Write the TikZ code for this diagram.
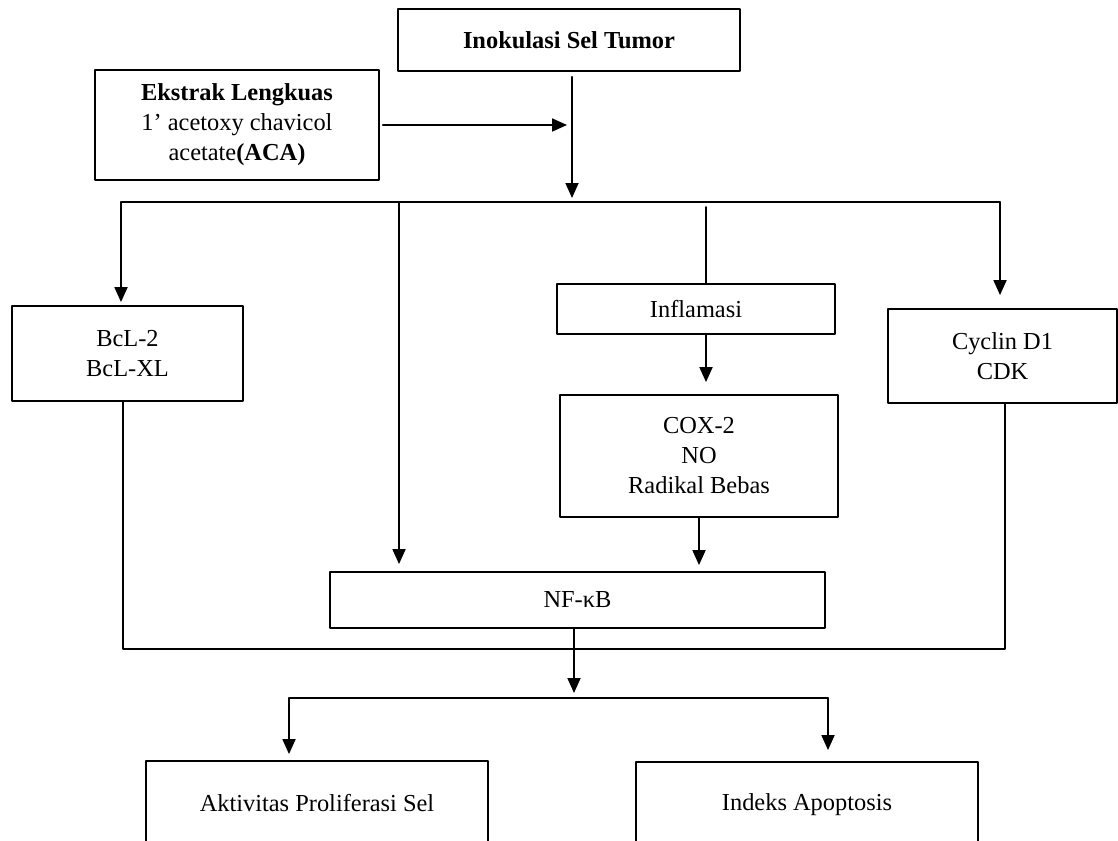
\documentclass[tikz,border=0pt]{standalone}
\usepackage{fontspec}
\setmainfont{Liberation Serif}
\usetikzlibrary{arrows.meta,positioning}

\begin{document}
\begin{tikzpicture}[x=0.5pt, y=-0.5pt, line cap=round, line join=round,
		kotak/.style={draw, line width=0.9pt, align=center, inner sep=0pt,
			font=\fontsize{12.2pt}{15pt}\selectfont},
		garis/.style={line width=0.9pt},
		panah/.style={garis, -{Triangle[length=7.5pt,width=6.5pt]}}]
					\useasboundingbox (0,0) rectangle (1118,840);

					\node[kotak, minimum width=171pt, minimum height=31pt] (tumor) at (569,40) {\textbf{Inokulasi Sel Tumor}};
					\node[kotak, minimum width=142pt, minimum height=55pt] (ekstrak) at (237,125) {\textbf{Ekstrak Lengkuas}\\1’ acetoxy chavicol\\acetate\textbf{(ACA)}};
					\node[kotak, minimum width=115.5pt, minimum height=47.5pt] (bcl) at (127.5,353.5) {BcL-2\\BcL-XL};
					\node[kotak, minimum width=139pt, minimum height=25pt] (inflamasi) at (696,309) {Inflamasi};
					\node[kotak, minimum width=139pt, minimum height=61pt] (cox) at (699,456) {COX-2\\NO\\Radikal Bebas};
					\node[kotak, minimum width=114.5pt, minimum height=47pt] (cyclin) at (1002.5,356) {Cyclin D1\\CDK};
					\node[kotak, minimum width=247.5pt, minimum height=28pt] (nfkb) at (577.5,600) {NF-κB};
					\node[kotak, minimum width=171pt, minimum height=42.5pt] (aktivitas) at (317,803.5) {Aktivitas Proliferasi Sel};
					\node[kotak, minimum width=171pt, minimum height=43pt] (indeks) at (807,805) {Indeks Apoptosis};

					\coordinate (cabang) at (572,202);
					\coordinate (kiri) at (121,202);
					\coordinate (tengah) at (399,202);
					\coordinate (radang) at (706,207);
					\coordinate (kanan) at (1000,202);
					\coordinate (bawahkiri) at (123,649);
					\coordinate (bawahkanan) at (1005,649);
					\coordinate (hasil) at (574,698);
					\coordinate (hasilkiri) at (289,698);
					\coordinate (hasilkanan) at (828,698);

					\draw[panah, shorten <=2.5pt, shorten >=2pt] (tumor.south -| cabang) -- (cabang);
					\draw[panah, shorten <=1.5pt, shorten >=2.5pt] (ekstrak.east) -- (ekstrak.east -| cabang);
					\draw[garis] (kiri) -- (kanan);

					\draw[panah, shorten >=1.5pt] (kiri) -- (kiri |- bcl.north);
					\draw[panah, shorten >=3.5pt] (tengah) -- (tengah |- nfkb.north);
					\draw[garis] (radang) -- (radang |- inflamasi.north);
					\draw[panah, shorten >=6pt] (inflamasi.south -| radang) -- (radang |- cox.north);
					\draw[panah, shorten >=3pt] (cox.south) -- (cox.south |- nfkb.north);
					\draw[panah, shorten >=6.5pt] (kanan) -- (kanan |- cyclin.north);

					\draw[garis] (bawahkiri |- bcl.south) -- (bawahkiri) -- (bawahkanan) -- (bawahkanan |- cyclin.south);
					\draw[panah, shorten >=2.5pt] (nfkb.south -| hasil) -- (hasil);

					\draw[garis] (hasilkiri) -- (hasilkanan);
					\draw[panah, shorten >=3pt] (hasilkiri) -- (hasilkiri |- aktivitas.north);
					\draw[panah, shorten >=5.5pt] (hasilkanan) -- (hasilkanan |- indeks.north);
				\end{tikzpicture}
\end{document}
